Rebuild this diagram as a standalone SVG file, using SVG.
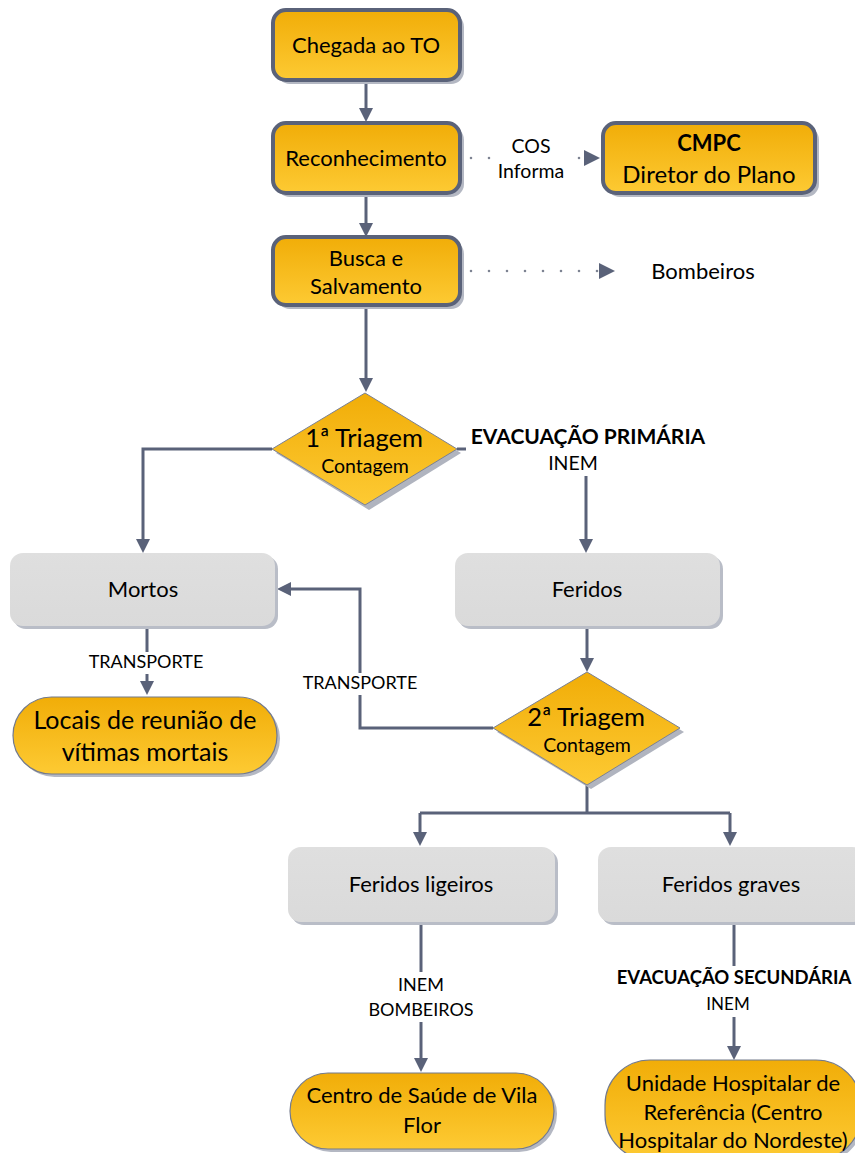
<svg xmlns="http://www.w3.org/2000/svg" width="855" height="1153" viewBox="0 0 855 1153">
  <defs>
    <linearGradient id="gOrange" x1="0" y1="0" x2="0" y2="1">
      <stop offset="0" stop-color="#f1ad08"/>
      <stop offset="1" stop-color="#fdca33"/>
    </linearGradient>
    <linearGradient id="gGray" x1="0" y1="0" x2="0" y2="1">
      <stop offset="0" stop-color="#dfdfdf"/>
      <stop offset="1" stop-color="#dadada"/>
    </linearGradient>
    <marker id="arrow" viewBox="0 0 14 14" refX="10" refY="7" markerWidth="14" markerHeight="14" markerUnits="userSpaceOnUse" orient="auto">
      <path d="M0,0 L14,7 L0,14 z" fill="#5a6279"/>
    </marker>
    <marker id="arrowDot" viewBox="0 0 16 16" refX="2" refY="8" markerWidth="16" markerHeight="16" markerUnits="userSpaceOnUse" orient="auto">
      <path d="M0,0 L16,8 L0,16 z" fill="#5a6279"/>
    </marker>
  </defs>
  <style>
    text { font-family: Lato, "Liberation Sans", sans-serif; fill: #000; text-anchor: middle; }
    .step { fill: url(#gOrange); stroke: #5a6279; stroke-width: 4; }
    .stepShadow { fill: #b4b8c3; }
    .gray { fill: url(#gGray); }
    .grayShadow { fill: #b9bdc7; }
    .term { fill: url(#gOrange); stroke: #737a8c; stroke-width: 1.2; }
    .termShadow { fill: #b4b8c3; }
    .dec { fill: url(#gOrange); stroke: #7b8193; stroke-width: 1; }
    .decShadow { fill: #b0b4bf; }
    .line { fill: none; stroke: #5a6279; stroke-width: 3; }
    .dots { fill: none; stroke: #7d8392; stroke-width: 2.6; stroke-linecap: round; stroke-dasharray: 0 18; }
    .bg { fill: #fff; }
    .t22 { font-size: 22px; }
    .t24 { font-size: 24px; }
    .tri { font-size: 25.5px; }
    .cnt { font-size: 19.5px; }
    .lbl { font-size: 18px; }
    .b { font-weight: bold; }
  </style>

  <!-- connectors -->
  <g id="connectors">
    <path class="line" d="M366,82 V118" marker-end="url(#arrow)"/>
    <path class="line" d="M366,195 V233" marker-end="url(#arrow)"/>
    <path class="line" d="M366,307 V388" marker-end="url(#arrow)"/>
    <path class="line" d="M272,449 H143 V549" marker-end="url(#arrow)"/>
    <path class="line" d="M457,449 H586 V549" marker-end="url(#arrow)"/>
    <path class="line" d="M147,628 V691" marker-end="url(#arrow)"/>
    <path class="line" d="M587,627 V668" marker-end="url(#arrow)"/>
    <path class="line" d="M493,728 H360 V589 H281" marker-end="url(#arrow)"/>
    <path class="line" d="M587,785 V813"/>
    <path class="line" d="M420,813 H730"/>
    <path class="line" d="M420,813 V842" marker-end="url(#arrow)"/>
    <path class="line" d="M730,813 V842" marker-end="url(#arrow)"/>
    <path class="line" d="M421,922 V1068" marker-end="url(#arrow)"/>
    <path class="line" d="M734,922 V1056" marker-end="url(#arrow)"/>
    <path class="dots" d="M471,158 H586" marker-end="url(#arrowDot)"/>
    <path class="dots" d="M471,271 H601" marker-end="url(#arrowDot)"/>

    <!-- connector labels -->
    <rect class="bg" x="494" y="134" width="76" height="48"/>
    <text style="font-size:19.5px" x="531" y="153">COS</text>
    <text style="font-size:19.5px" x="531" y="178">Informa</text>

    <rect class="bg" x="466" y="424" width="244" height="52"/>
    <text class="b" style="font-size:21px" x="588" y="444">EVACUAÇÃO PRIMÁRIA</text>
    <text style="font-size:19.5px" x="573" y="470">INEM</text>

    <rect class="bg" x="84" y="652" width="124" height="22"/>
    <text class="lbl" x="146" y="668">TRANSPORTE</text>

    <rect class="bg" x="298" y="673" width="124" height="22"/>
    <text class="lbl" x="360" y="689">TRANSPORTE</text>

    <rect class="bg" x="360" y="972" width="122" height="50"/>
    <text class="lbl" x="421" y="991">INEM</text>
    <text class="lbl" x="421" y="1016">BOMBEIROS</text>

    <rect class="bg" x="612" y="966" width="243" height="51"/>
    <text class="b" style="font-size:18.5px" x="734" y="984">EVACUAÇÃO SECUNDÁRIA</text>
    <text style="font-size:17px" x="728" y="1010">INEM</text>
  </g>

  <g id="chegada">
    <rect class="stepShadow" x="277" y="14" width="187" height="70" rx="13"/>
    <rect class="step" x="273" y="10" width="187" height="70" rx="13"/>
    <text class="t22" x="366" y="53">Chegada ao TO</text>
  </g>

  <g id="reconhecimento">
    <rect class="stepShadow" x="277" y="127" width="187" height="70" rx="13"/>
    <rect class="step" x="273" y="123" width="187" height="70" rx="13"/>
    <text class="t22" x="366" y="166">Reconhecimento</text>
  </g>

  <g id="cmpc">
    <rect class="stepShadow" x="607" y="127" width="212" height="70" rx="13"/>
    <rect class="step" x="603" y="123" width="212" height="70" rx="13"/>
    <text class="t22 b" x="709" y="151">CMPC</text>
    <text class="t24" x="709" y="183">Diretor do Plano</text>
  </g>

  <g id="busca">
    <rect class="stepShadow" x="277" y="241" width="187" height="68" rx="13"/>
    <rect class="step" x="273" y="237" width="187" height="68" rx="13"/>
    <text class="t22" x="366" y="266">Busca e</text>
    <text class="t22" x="366" y="294">Salvamento</text>
  </g>

  <g id="bombeiros">
    <text class="t22" x="703" y="279">Bombeiros</text>
  </g>

  <g id="triagem1">
    <path class="decShadow" d="M369,396 L461,453 L369,510 L276,453 z"/>
    <path class="dec" d="M365,393 L457,449 L365,505 L272,449 z"/>
    <text class="tri" x="364" y="447">1ª Triagem</text>
    <text class="cnt" x="365" y="473">Contagem</text>
  </g>

  <g id="mortos">
    <rect class="grayShadow" x="13" y="556" width="265" height="73" rx="13"/>
    <rect class="gray" x="10" y="553" width="265" height="73" rx="13"/>
    <text class="t22" x="143" y="597">Mortos</text>
  </g>

  <g id="feridos">
    <rect class="grayShadow" x="458" y="556" width="265" height="73" rx="13"/>
    <rect class="gray" x="455" y="553" width="265" height="73" rx="13"/>
    <text class="t22" x="587" y="597">Feridos</text>
  </g>

  <g id="locais">
    <rect class="termShadow" x="16" y="700" width="264" height="77" rx="38.5"/>
    <rect class="term" x="13" y="697" width="264" height="77" rx="38.5"/>
    <text style="font-size:25px" x="145" y="729">Locais de reunião de</text>
    <text style="font-size:25px" x="145" y="761">vítimas mortais</text>
  </g>

  <g id="triagem2">
    <path class="decShadow" d="M591,676 L684,732 L591,789 L497,732 z"/>
    <path class="dec" d="M587,672 L680,728 L587,785 L493,728 z"/>
    <text class="tri" x="586" y="726">2ª Triagem</text>
    <text class="cnt" x="587" y="752">Contagem</text>
  </g>

  <g id="feridos-ligeiros">
    <rect class="grayShadow" x="291" y="850" width="267" height="75" rx="13"/>
    <rect class="gray" x="288" y="847" width="267" height="75" rx="13"/>
    <text class="t22" x="421" y="892">Feridos ligeiros</text>
  </g>

  <g id="feridos-graves">
    <rect class="grayShadow" x="601" y="850" width="267" height="75" rx="13"/>
    <rect class="gray" x="598" y="847" width="267" height="75" rx="13"/>
    <text class="t22" x="731" y="892">Feridos graves</text>
  </g>

  <g id="centro-saude">
    <rect class="termShadow" x="293" y="1076" width="264" height="76" rx="38"/>
    <rect class="term" x="290" y="1073" width="264" height="76" rx="38"/>
    <text class="t22" x="422" y="1103">Centro de Saúde de Vila</text>
    <text class="t22" x="422" y="1133">Flor</text>
  </g>

  <g id="unidade-hospitalar">
    <rect class="termShadow" x="608" y="1063" width="256" height="100" rx="45"/>
    <rect class="term" x="605" y="1060" width="256" height="100" rx="45"/>
    <text class="t22" x="733" y="1091">Unidade Hospitalar de</text>
    <text class="t22" x="733" y="1120">Referência (Centro</text>
    <text class="t22" x="733" y="1148">Hospitalar do Nordeste)</text>
  </g>
</svg>
